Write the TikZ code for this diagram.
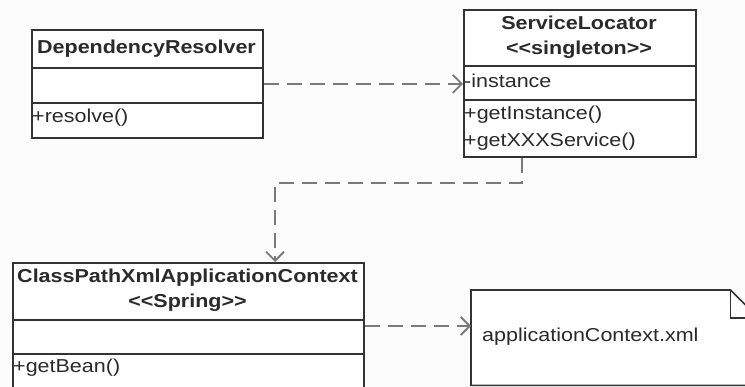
\documentclass[tikz,border=0pt]{standalone}
\usepackage{fontspec}
\setmainfont{Liberation Sans}[FakeStretch=1.15, Ligatures=TeXOff]
\usetikzlibrary{arrows.meta,calc}
\definecolor{linec}{HTML}{333333}
\definecolor{txt}{HTML}{2A2A2A}
\definecolor{depc}{HTML}{7A7A7A}
\definecolor{bgc}{HTML}{FCFCFC}
\begin{document}
\begin{tikzpicture}[x=1pt,y=-1pt,
  font=\fontsize{18.7}{22}\selectfont,
  box/.style={draw=linec, line width=1.8pt, fill=white, anchor=north west, inner sep=0pt},
  divider/.style={draw=linec, line width=1.8pt},
  title/.style={font=\fontsize{18.7}{22}\selectfont\bfseries, text=txt, inner sep=0pt, anchor=center},
  member/.style={text=txt, inner sep=0pt, anchor=west},
  dep/.style={draw=depc, line width=2.2pt, dash pattern=on 15pt off 8pt,
    -{Straight Barb[length=9pt,width=18pt,line width=1.8pt]}}]
\useasboundingbox (0,0) rectangle (745,387);
\fill[bgc] (0,0) rectangle (745,387);

% DependencyResolver
\node[box, minimum width=231pt, minimum height=108pt] (dr) at (31,29) {};
\draw[divider] (dr.west |- 0,68) -- (dr.east |- 0,68);
\draw[divider] (dr.west |- 0,103) -- (dr.east |- 0,103);
\node[title] (drt) at (146.5,49) {DependencyResolver};
\node[member] (drm) at (32,118) {+resolve()};

% ServiceLocator
\node[box, minimum width=232pt, minimum height=147pt] (sl) at (463,9) {};
\draw[divider] (sl.west |- 0,66) -- (sl.east |- 0,66);
\draw[divider] (sl.west |- 0,100) -- (sl.east |- 0,100);
\node[title] (slt) at (579,23) {ServiceLocator};
\node[title] (sls) at (579,50) {<<singleton>>};
\node[member] (sla) at (464,81) {-instance};
\node[member] (slm1) at (464,115) {+getInstance()};
\node[member] (slm2) at (464,142) {+getXXXService()};

% ClassPathXmlApplicationContext
\node[box, minimum width=351pt, minimum height=140pt] (cp) at (12,262) {};
\draw[divider] (cp.west |- 0,320) -- (cp.east |- 0,320);
\draw[divider] (cp.west |- 0,354) -- (cp.east |- 0,354);
\node[title] (cpt) at (187.5,278) {ClassPathXmlApplicationContext};
\node[title] (cps) at (187.5,303) {<<Spring>>};
\node[member] (cpm) at (13,368) {+getBean()};

% Note
\node[anchor=north west, minimum width=287pt, minimum height=95pt, inner sep=0pt] (note) at (471,290) {};
\draw[linec, line width=1.6pt, fill=white] (note.north west) -- ([xshift=-28pt]note.north east)
  -- ([yshift=-28pt]note.north east) -- (note.south east) -- (note.south west) -- cycle;
\draw[linec, line width=1.6pt] ([xshift=-28pt]note.north east) |- ([yshift=-28pt]note.north east);
\node[member] (notet) at (482,337) {applicationContext.xml};

% connectors
\draw[dep] (dr.east) -- (dr.east -| sl.west);
\coordinate (c1) at (275,183);
\draw[dep] ([xshift=59pt]sl.south west) |- (c1) -- (c1 |- cp.north);
\draw[dep] (cp.east |- 0,326) -- (note.west |- 0,326);
\end{tikzpicture}
\end{document}
